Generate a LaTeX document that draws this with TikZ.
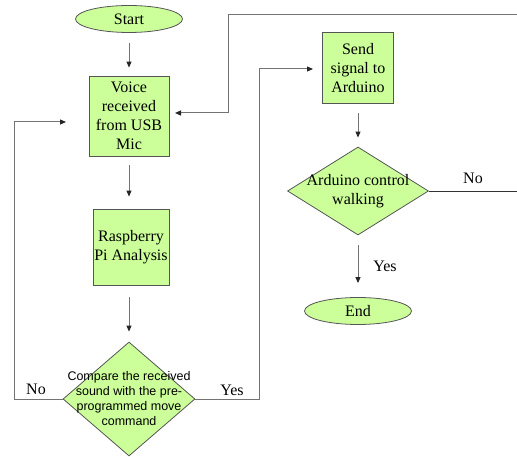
\documentclass[tikz,border=0pt]{standalone}
\usepackage{fontspec}
\setmainfont{Liberation Serif}
\newfontfamily\diafont{Liberation Sans}
\usetikzlibrary{arrows.meta,shapes.geometric}
\definecolor{fcfill}{RGB}{204,255,153}
\definecolor{fcedge}{RGB}{85,85,85}
\definecolor{fcline}{RGB}{115,115,115}

\begin{document}
\begin{tikzpicture}[
    x=1pt, y=-1pt,
    >={Triangle[length=6pt,width=5pt,color=black!85]},
    proc/.style={rectangle, draw=fcedge, fill=fcfill, line width=0.8pt, align=center, inner sep=0pt, font=\fontsize{16}{19}\selectfont},
    term/.style={ellipse, draw=fcedge, fill=fcfill, line width=0.8pt, inner sep=0pt, minimum width=107pt, minimum height=27pt, font=\fontsize{16}{19}\selectfont},
    dec/.style={diamond, draw=fcedge, fill=fcfill, line width=0.8pt, inner sep=0pt},
    link/.style={draw=fcline, line width=1pt},
    tag/.style={font=\fontsize{16}{19}\selectfont},
  ]
  \useasboundingbox (0,0) rectangle (517,457);
  \clip (0,0) rectangle (517,457);

  % left column
  \node[term] (start) at (129,19) {Start};
  \node[proc, minimum width=80pt, minimum height=80pt] (voice) at (129,116) {Voice\\received\\from USB\\Mic};
  \node[proc, minimum width=76pt, minimum height=76pt] (rpi) at (131,247) {Raspberry\\Pi Analysis};
  \node[dec, minimum width=132pt, minimum height=114pt] (cmp) at (129,399) {};
  \node[align=center, font=\diafont\fontsize{12.5}{15}\selectfont] (cmptxt) at (cmp.center)
    {Compare the received\\sound with the pre-\\programmed move\\command};

  % right column
  \node[proc, minimum width=71pt, minimum height=71pt] (send) at (358,68) {Send\\signal to\\Arduino};
  \node[dec, minimum width=141pt, minimum height=88pt] (ard) at (358,191) {};
  \node[align=center, font=\fontsize{16}{19}\selectfont] (ardtxt) at (ard.center) {Arduino control\\walking};
  \node[term] (stop) at (358,311) {End};

  % free ends of the loops
  \coordinate (noend) at (66,122);
  \coordinate (yesend) at (313,69);
  \coordinate (topend) at (175,113);
  \coordinate (rgt) at (530,191);

  \draw[link,->, shorten <=10pt, shorten >=8pt] (start) -- (start |- voice.north);
  \draw[link,->, shorten <=9pt, shorten >=12pt] (voice.south) -- (voice.south |- rpi.north);
  \draw[link,->, shorten <=12pt, shorten >=10pt] (rpi.south -| cmp.north) -- (cmp.north);
  \draw[link,->, shorten <=9pt, shorten >=9pt] (send.south) -- (ard.north);
  \draw[link,->, shorten <=10pt, shorten >=14pt] (ard.south) -- (stop.north);

  \draw[link,->] (cmp.west) -- (14,399) |- (noend);
  \draw[link,->] (cmp.east) -- (259,399) |- (yesend);
  \draw[line width=0.8pt, black!80] (ard.east) -- (rgt);
  \draw[link,->] (rgt) -- (530,15) -| (228,113) -- (topend);

  \node[tag] (lno) at (36,389) {No};
  \node[tag] (lyes) at (232,390) {Yes};
  \node[tag] (rno) at (473,178) {No};
  \node[tag] (ryes) at (385,266) {Yes};

\end{tikzpicture}
\end{document}
